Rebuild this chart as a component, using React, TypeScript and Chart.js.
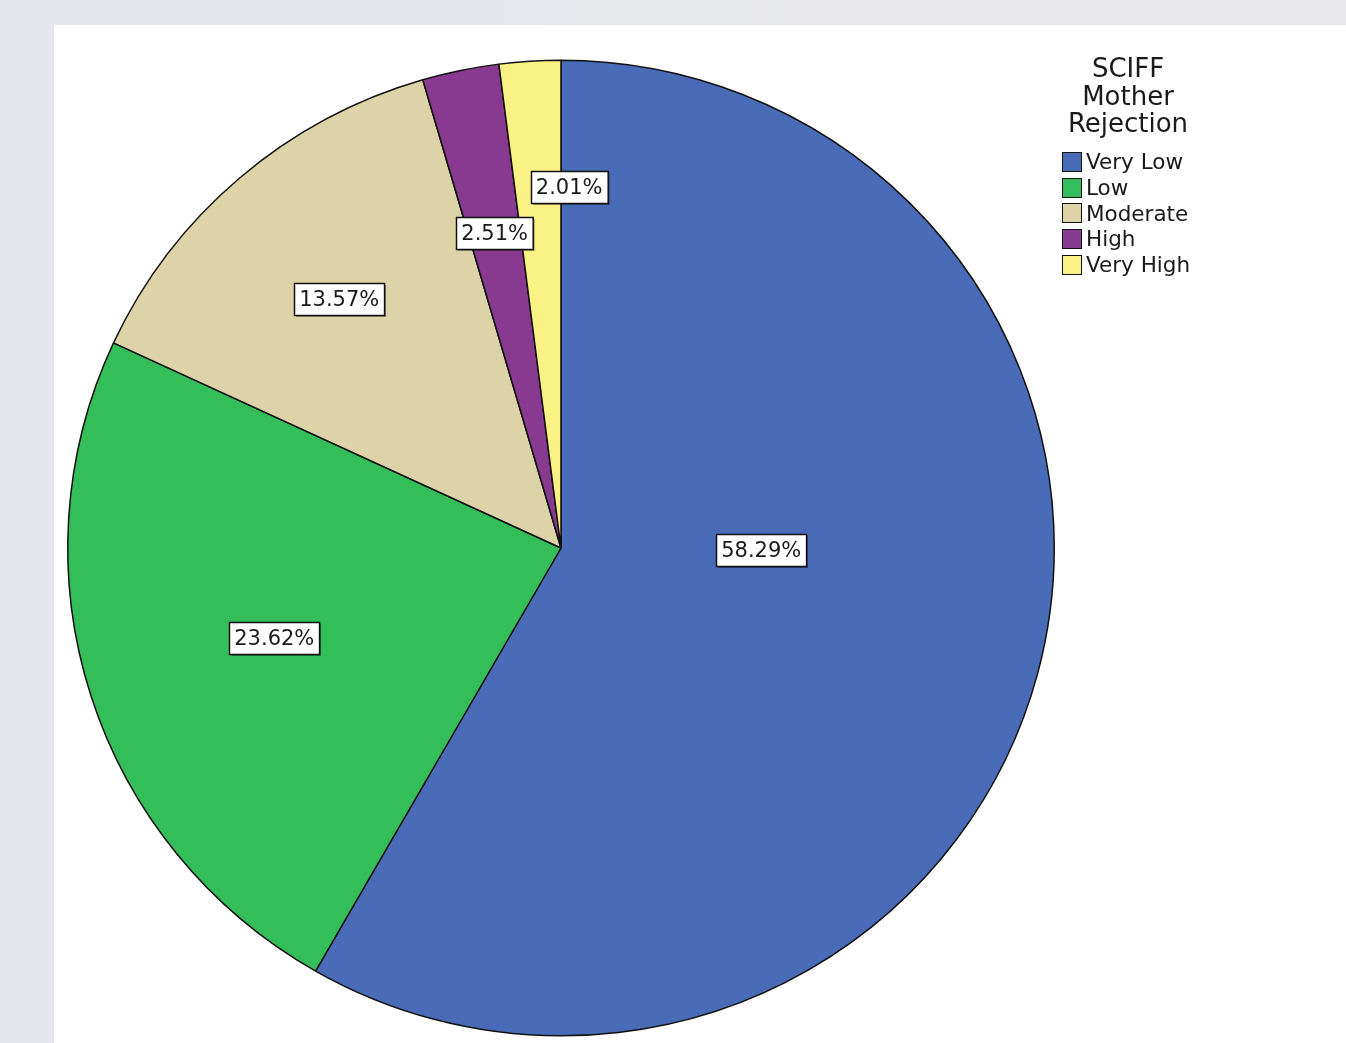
import React, { useEffect, useRef } from "react";
import { Chart, registerables } from "chart.js";

Chart.register(...registerables);

const categories = ["Very Low", "Low", "Moderate", "High", "Very High"];
const percentages = [58.29, 23.62, 13.57, 2.51, 2.01];
const sliceColors = ["#4a6bb8", "#33be5a", "#dcd4a8", "#873a8f", "#fbf285"];
const legendTitle = ["SCIFF", "Mother", "Rejection"];
// label placement: [radius fraction, angle shift in degrees]
const labelPlacement: [number, number][] = [
  [0.406, -14.3],
  [0.61, 0],
  [0.68, -0.7],
  [0.66, 0],
  [0.74, 4.9],
];
// vertical squash of the pie (reference pie is slightly elliptical)
const verticalScale = 487.5 / 493;

const piePlugin = {
  id: "pieStyle",
  beforeDatasetsDraw(chart: any) {
    const meta = chart.getDatasetMeta(0);
    const arc = meta.data[0];
    const cy = arc ? arc.y : 0;
    const ctx = chart.ctx;
    ctx.save();
    ctx.translate(0, cy);
    ctx.scale(1, verticalScale);
    ctx.translate(0, -cy);
  },
  afterDatasetsDraw(chart: any) {
    const ctx = chart.ctx;
    ctx.restore();
    const meta = chart.getDatasetMeta(0);
    ctx.save();
    ctx.font = "21px 'DejaVu Sans'";
    ctx.textAlign = "center";
    ctx.textBaseline = "middle";
    meta.data.forEach((arc: any, i: number) => {
      const p = arc.getProps(["x", "y", "startAngle", "endAngle", "outerRadius"], true);
      const [frac, shift] = labelPlacement[i];
      const a = (p.startAngle + p.endAngle) / 2 + (shift * Math.PI) / 180;
      const r = frac * p.outerRadius;
      const cx = p.x + r * Math.cos(a);
      const cy = p.y + r * Math.sin(a) * verticalScale;
      const text = percentages[i].toFixed(2) + "%";
      const w = ctx.measureText(text).width + 10;
      const h = 32;
      const bx = Math.round(cx - w / 2) + 0.5;
      const by = Math.round(cy - h / 2) + 0.5;
      ctx.fillStyle = "rgba(0,0,0,0.35)";
      ctx.fillRect(bx + 1.5, by + 1.5, w, h);
      ctx.fillStyle = "#ffffff";
      ctx.fillRect(bx, by, w, h);
      ctx.strokeStyle = "#111";
      ctx.lineWidth = 1.5;
      ctx.strokeRect(bx, by, w, h);
      ctx.fillStyle = "#1a1a1a";
      ctx.fillText(text, cx, by + h / 2 + 1);
    });
    ctx.restore();
  },
};

export default function App() {
  const canvasRef = useRef<HTMLCanvasElement | null>(null);

  useEffect(() => {
    if (!canvasRef.current) return;
    const chart = new Chart(canvasRef.current, {
      type: "pie",
      data: {
        labels: categories,
        datasets: [
          {
            data: percentages,
            backgroundColor: sliceColors,
            borderColor: "#111111",
            borderWidth: 1.5,
          },
        ],
      },
      options: {
        responsive: false,
        animation: false,
        layout: { padding: { left: 13, top: 29, right: 291, bottom: 1 } },
        plugins: {
          legend: { display: false },
          tooltip: { enabled: false },
        },
      },
      plugins: [piePlugin],
    });
    return () => chart.destroy();
  }, []);

  return (
    <div
      style={{
        position: "fixed",
        left: 0,
        top: 0,
        width: 1346,
        height: 1043,
        background: "linear-gradient(90deg, #e1e5ea 0px, #e6e7ec 54px, #e8e8ec 100%)",
        overflow: "hidden",
        fontFamily: "'DejaVu Sans', sans-serif",
      }}
    >
      <div
        style={{
          position: "absolute",
          left: 54,
          top: 25,
          width: 1292,
          height: 1018,
          background: "#ffffff",
        }}
      >
        <canvas ref={canvasRef} width={1292} height={1018} style={{ display: "block" }} />
      </div>
      <div
        style={{
          position: "absolute",
          left: 1053,
          top: 55,
          width: 150,
          textAlign: "center",
          fontSize: 26,
          lineHeight: "27.5px",
          color: "#1a1a1a",
        }}
      >
        {legendTitle.map((t) => (
          <div key={t}>{t}</div>
        ))}
      </div>
      <div style={{ position: "absolute", left: 1062, top: 149, color: "#1a1a1a" }}>
        {categories.map((c, i) => (
          <div
            key={c}
            style={{ display: "flex", alignItems: "center", height: 25.7, fontSize: 21.5 }}
          >
            <div
              style={{
                width: 18,
                height: 18,
                background: sliceColors[i],
                border: "1.5px solid #111",
                marginRight: 4,
                boxSizing: "content-box",
                flexShrink: 0,
              }}
            />
            <span style={{ lineHeight: "25px" }}>{c}</span>
          </div>
        ))}
      </div>
    </div>
  );
}
